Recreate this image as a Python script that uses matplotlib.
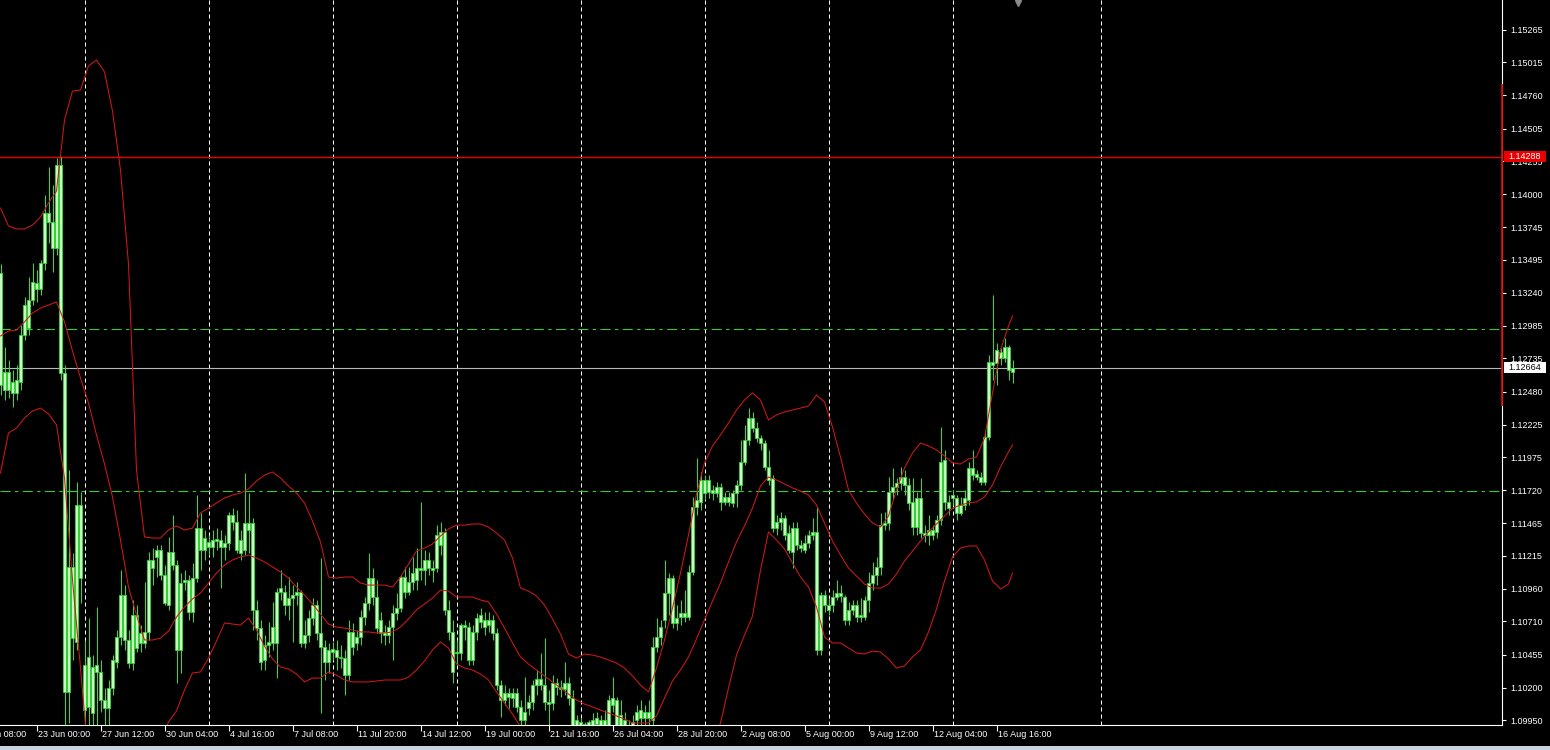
import numpy as np
import matplotlib.pyplot as plt
from matplotlib import transforms
from matplotlib.patches import Rectangle

# velas H4 (EURUSD)
opens = [1.13393, 1.12492, 1.12631, 1.12469, 1.12469, 1.12554, 1.12915, 1.12969, 1.13185, 1.13316,
         1.13270, 1.13470, 1.13855, 1.13786, 1.13585, 1.14224, 1.12623, 1.10167, 1.11129, 1.10552,
         1.11606, 1.10374, 1.10051, 1.10359, 1.10321, 1.10321, 1.10105, 1.10043, 1.10197, 1.10398,
         1.10590, 1.10913, 1.10567, 1.10390, 1.10759, 1.10621, 1.10544, 1.10629, 1.11183, 1.11206,
         1.11260, 1.11067, 1.10836, 1.11245, 1.11144, 1.10490, 1.11014, 1.11029, 1.10783, 1.11044,
         1.11429, 1.11260, 1.11322, 1.11283, 1.11345, 1.11337, 1.11283, 1.11314, 1.11529, 1.11476,
         1.11237, 1.11260, 1.11468, 1.11468, 1.10798, 1.10659, 1.10413, 1.10528, 1.10544, 1.10544,
         1.10937, 1.10937, 1.10836, 1.10890, 1.10913, 1.10937, 1.10544, 1.10605, 1.10736, 1.10836,
         1.10621, 1.10513, 1.10398, 1.10475, 1.10490, 1.10436, 1.10428, 1.10297, 1.10629, 1.10544,
         1.10590, 1.10744, 1.10852, 1.11044, 1.10898, 1.10721, 1.10605, 1.10605, 1.10667, 1.10775,
         1.10813, 1.11052, 1.10937, 1.11014, 1.11029, 1.11121, 1.11106, 1.11183, 1.11121, 1.11121,
         1.11298, 1.11399, 1.10798, 1.10629, 1.10467, 1.10467, 1.10682, 1.10667, 1.10413, 1.10629,
         1.10706, 1.10721, 1.10682, 1.10721, 1.10621, 1.10220, 1.10105, 1.10128, 1.10159, 1.10159,
         1.10051, 1.09951, 1.10043, 1.10090, 1.10220, 1.10267, 1.10220, 1.10090, 1.10082, 1.10236,
         1.10205, 1.10190, 1.10236, 1.10120, 1.09951, 1.09936, 1.09874, 1.09890, 1.09905, 1.09920,
         1.09951, 1.09912, 1.09912, 1.10066, 1.10105, 1.09912, 1.09951, 1.09890, 1.09897, 1.09951,
         1.09967, 1.10013, 1.09967, 1.09951, 1.10513, 1.10590, 1.10721, 1.10929, 1.11044, 1.10736,
         1.10744, 1.10744, 1.10744, 1.11091, 1.11591, 1.11630, 1.11799, 1.11707, 1.11722, 1.11699,
         1.11745, 1.11630, 1.11668, 1.11622, 1.11699, 1.11761, 1.11938, 1.12107, 1.12276, 1.12199,
         1.12122, 1.12084, 1.11899, 1.11815, 1.11429, 1.11476, 1.11506, 1.11391, 1.11245, 1.11429,
         1.11298, 1.11260, 1.11314, 1.11375, 1.11399, 1.10490, 1.10913, 1.10836, 1.10836, 1.10898,
         1.10929, 1.10898, 1.10721, 1.10798, 1.10836, 1.10744, 1.10744, 1.10875, 1.11006, 1.11067,
         1.11129, 1.11452, 1.11468, 1.11707, 1.11745, 1.11776, 1.11822, 1.11761, 1.11630, 1.11437,
         1.11660, 1.11391, 1.11375, 1.11414, 1.11399, 1.11491, 1.11953, 1.11630, 1.11660, 1.11660,
         1.11545, 1.11606, 1.11645, 1.11892, 1.11845, 1.11822, 1.11784, 1.12130, 1.12708, 1.12700,
         1.12785, 1.12738, 1.12823, 1.12631]
highs = [1.13462, 1.12823, 1.12723, 1.12646, 1.12684, 1.12992, 1.13208, 1.13362, 1.13470, 1.13416,
         1.13493, 1.13993, 1.14209, 1.14070, 1.14278, 1.14288, 1.12684, 1.11876, 1.11237, 1.11784,
         1.11707, 1.10567, 1.10736, 1.10451, 1.10821, 1.10413, 1.10197, 1.10259, 1.10451, 1.10644,
         1.11106, 1.10990, 1.10644, 1.10875, 1.10836, 1.10682, 1.11014, 1.11245, 1.11275, 1.11298,
         1.11298, 1.11144, 1.11360, 1.11529, 1.11183, 1.11083, 1.11106, 1.11067, 1.11160, 1.11683,
         1.11545, 1.11414, 1.11375, 1.11414, 1.11429, 1.11414, 1.11375, 1.11553, 1.11583, 1.11568,
         1.11414, 1.11853, 1.11699, 1.11506, 1.10875, 1.10721, 1.10605, 1.10706, 1.10860, 1.10967,
         1.11106, 1.10990, 1.11052, 1.10990, 1.11014, 1.10952, 1.10721, 1.10798, 1.10890, 1.10875,
         1.11198, 1.10567, 1.10544, 1.10552, 1.10567, 1.10528, 1.10490, 1.10721, 1.10698, 1.10644,
         1.10798, 1.10898, 1.11237, 1.11121, 1.11029, 1.10783, 1.10682, 1.10721, 1.10836, 1.10929,
         1.11067, 1.11129, 1.11129, 1.11206, 1.11275, 1.11630, 1.11260, 1.11245, 1.11183, 1.11452,
         1.11476, 1.11429, 1.10875, 1.10721, 1.10567, 1.10698, 1.10721, 1.10706, 1.10682, 1.10775,
         1.10813, 1.10783, 1.10783, 1.10759, 1.10659, 1.10259, 1.10220, 1.10197, 1.10197, 1.10197,
         1.10105, 1.10282, 1.10143, 1.10259, 1.10336, 1.10467, 1.10582, 1.10182, 1.10297, 1.10274,
         1.10259, 1.10398, 1.10282, 1.10182, 1.09989, 1.09967, 1.09936, 1.09951, 1.10005, 1.10013,
         1.09989, 1.10028, 1.10143, 1.10282, 1.10128, 1.10105, 1.10013, 1.09951, 1.09989, 1.10066,
         1.10105, 1.10066, 1.10105, 1.10590, 1.10736, 1.10721, 1.11183, 1.11083, 1.11067, 1.10836,
         1.10875, 1.10952, 1.11144, 1.11668, 1.11968, 1.11861, 1.11837, 1.11837, 1.11761, 1.11784,
         1.11776, 1.11707, 1.11707, 1.11722, 1.11799, 1.12107, 1.12223, 1.12353, 1.12323, 1.12246,
         1.12146, 1.12107, 1.12030, 1.11837, 1.11529, 1.11553, 1.11529, 1.11452, 1.11476, 1.11476,
         1.11337, 1.11375, 1.11414, 1.11506, 1.11591, 1.10937, 1.10952, 1.10890, 1.10952, 1.11029,
         1.10990, 1.10913, 1.10860, 1.10875, 1.10875, 1.10890, 1.10906, 1.11091, 1.11168, 1.11206,
         1.11545, 1.11553, 1.11822, 1.11892, 1.11815, 1.11899, 1.11876, 1.11815, 1.11815, 1.11707,
         1.11815, 1.11452, 1.11529, 1.11452, 1.11529, 1.12207, 1.12030, 1.11683, 1.11722, 1.11683,
         1.11668, 1.11722, 1.11938, 1.12030, 1.11876, 1.11861, 1.12184, 1.12761, 1.13223, 1.12854,
         1.12816, 1.12892, 1.12839, 1.12723]
lows = [1.12453, 1.12415, 1.12430, 1.12361, 1.12415, 1.12492, 1.12877, 1.12915, 1.13146, 1.13170,
        1.13223, 1.13416, 1.13624, 1.13401, 1.13531, 1.12569, 1.09500, 1.09928, 1.10413, 1.10490,
        1.10852, 1.09912, 1.09912, 1.09912, 1.09912, 1.10013, 1.09912, 1.09912, 1.10143, 1.10351,
        1.10528, 1.10490, 1.10351, 1.10336, 1.10475, 1.10475, 1.10505, 1.10567, 1.10990, 1.11052,
        1.11029, 1.10836, 1.10798, 1.11106, 1.10236, 1.10313, 1.10952, 1.10721, 1.10706, 1.11014,
        1.11106, 1.11183, 1.11221, 1.11206, 1.11260, 1.10967, 1.11183, 1.11260, 1.11414, 1.11237,
        1.11183, 1.11221, 1.11237, 1.10644, 1.10567, 1.10336, 1.10336, 1.10436, 1.10490, 1.10274,
        1.10875, 1.10759, 1.10721, 1.10552, 1.10836, 1.10513, 1.10505, 1.10552, 1.10682, 1.10567,
        1.10005, 1.10259, 1.10313, 1.10413, 1.10336, 1.10351, 1.10143, 1.10259, 1.10451, 1.10490,
        1.10528, 1.10682, 1.10798, 1.10836, 1.10621, 1.10544, 1.10528, 1.10544, 1.10413, 1.10721,
        1.10783, 1.10890, 1.10913, 1.10952, 1.10952, 1.11029, 1.10990, 1.11067, 1.11014, 1.11091,
        1.11221, 1.10759, 1.10567, 1.10236, 1.10374, 1.10413, 1.10567, 1.10374, 1.10374, 1.10567,
        1.10659, 1.10605, 1.10629, 1.10567, 1.10182, 1.09974, 1.10066, 1.10043, 1.10051, 1.10013,
        1.09912, 1.09912, 1.09989, 1.10028, 1.10143, 1.10182, 1.10028, 1.09897, 1.10028, 1.10143,
        1.10128, 1.10143, 1.10066, 1.09874, 1.09836, 1.09820, 1.09797, 1.09836, 1.09859, 1.09874,
        1.09859, 1.09874, 1.09874, 1.10013, 1.09874, 1.09874, 1.09836, 1.09813, 1.09859, 1.09912,
        1.09912, 1.09912, 1.09912, 1.09912, 1.10475, 1.10528, 1.10659, 1.10759, 1.10659, 1.10644,
        1.10682, 1.10706, 1.10721, 1.11067, 1.11529, 1.11568, 1.11645, 1.11660, 1.11645, 1.11668,
        1.11568, 1.11606, 1.11599, 1.11591, 1.11591, 1.11722, 1.11915, 1.12069, 1.12169, 1.12092,
        1.12030, 1.11876, 1.11761, 1.11399, 1.11375, 1.11414, 1.11337, 1.11237, 1.11121, 1.11260,
        1.11245, 1.11237, 1.11275, 1.11337, 1.10451, 1.10451, 1.10783, 1.10759, 1.10783, 1.10875,
        1.10860, 1.10682, 1.10682, 1.10759, 1.10706, 1.10706, 1.10721, 1.10783, 1.10952, 1.10990,
        1.11067, 1.11414, 1.11414, 1.11645, 1.11683, 1.11722, 1.11683, 1.11568, 1.11375, 1.11375,
        1.11352, 1.11322, 1.11298, 1.11337, 1.11352, 1.11452, 1.11568, 1.11529, 1.11606, 1.11491,
        1.11529, 1.11568, 1.11606, 1.11799, 1.11799, 1.11761, 1.11761, 1.12107, 1.12569, 1.12530,
        1.12684, 1.12708, 1.12569, 1.12546]
closes = [1.12530, 1.12631, 1.12492, 1.12554, 1.12569, 1.12915, 1.13146, 1.13185, 1.13324, 1.13270,
          1.13470, 1.13855, 1.13786, 1.13585, 1.14224, 1.12623, 1.10167, 1.11129, 1.10582, 1.11606,
          1.11044, 1.10028, 1.10436, 1.10005, 1.10374, 1.10105, 1.10043, 1.10197, 1.10413, 1.10590,
          1.10913, 1.10567, 1.10390, 1.10759, 1.10505, 1.10544, 1.10629, 1.11183, 1.11121, 1.11260,
          1.11067, 1.10852, 1.11245, 1.11144, 1.10490, 1.11006, 1.11029, 1.10783, 1.11044, 1.11429,
          1.11260, 1.11352, 1.11283, 1.11337, 1.11329, 1.11283, 1.11314, 1.11529, 1.11476, 1.11260,
          1.11337, 1.11468, 1.11414, 1.10798, 1.10659, 1.10398, 1.10528, 1.10552, 1.10667, 1.10937,
          1.10967, 1.10836, 1.10890, 1.10913, 1.10937, 1.10544, 1.10605, 1.10736, 1.10836, 1.10621,
          1.10513, 1.10398, 1.10490, 1.10498, 1.10436, 1.10428, 1.10297, 1.10629, 1.10513, 1.10590,
          1.10744, 1.10852, 1.11044, 1.10898, 1.10659, 1.10621, 1.10629, 1.10667, 1.10775, 1.10813,
          1.11052, 1.10937, 1.11014, 1.11083, 1.11121, 1.11106, 1.11183, 1.11121, 1.11106, 1.11375,
          1.11399, 1.10798, 1.10629, 1.10321, 1.10475, 1.10682, 1.10667, 1.10413, 1.10629, 1.10736,
          1.10759, 1.10667, 1.10721, 1.10621, 1.10220, 1.10105, 1.10159, 1.10159, 1.10120, 1.10051,
          1.09951, 1.10013, 1.10090, 1.10220, 1.10267, 1.10220, 1.10090, 1.10074, 1.10236, 1.10205,
          1.10190, 1.10236, 1.10120, 1.09912, 1.09890, 1.09874, 1.09920, 1.09936, 1.09951, 1.09967,
          1.09897, 1.09951, 1.10105, 1.10120, 1.09912, 1.09989, 1.09890, 1.09859, 1.09936, 1.10013,
          1.10028, 1.09967, 1.10013, 1.10513, 1.10590, 1.10667, 1.10929, 1.11044, 1.10698, 1.10698,
          1.10775, 1.10775, 1.11091, 1.11591, 1.11645, 1.11799, 1.11699, 1.11799, 1.11699, 1.11745,
          1.11630, 1.11668, 1.11630, 1.11699, 1.11761, 1.11938, 1.12107, 1.12276, 1.12199, 1.12122,
          1.12084, 1.11899, 1.11799, 1.11429, 1.11476, 1.11506, 1.11375, 1.11260, 1.11429, 1.11298,
          1.11275, 1.11314, 1.11375, 1.11399, 1.10490, 1.10913, 1.10836, 1.10798, 1.10898, 1.10929,
          1.10906, 1.10721, 1.10798, 1.10836, 1.10744, 1.10759, 1.10875, 1.11006, 1.11067, 1.11129,
          1.11452, 1.11468, 1.11707, 1.11745, 1.11776, 1.11822, 1.11761, 1.11622, 1.11437, 1.11660,
          1.11391, 1.11375, 1.11414, 1.11375, 1.11491, 1.11938, 1.11630, 1.11583, 1.11683, 1.11545,
          1.11606, 1.11660, 1.11892, 1.11837, 1.11822, 1.11784, 1.12130, 1.12708, 1.12684, 1.12800,
          1.12738, 1.12823, 1.12646, 1.12664]

# Bandas de Bollinger lidas a cada 2 barras
band_bars = list(range(0, 253, 2)) + [253]
bb_upper = [1.13893, 1.13755, 1.13732, 1.13732, 1.13762, 1.13824, 1.13932, 1.14024, 1.14571, 1.14794,
            1.14802, 1.14987, 1.15033, 1.14941, 1.14640, 1.14186, 1.13462, 1.11876, 1.11360, 1.11352,
            1.11352, 1.11414, 1.11445, 1.11414, 1.11429, 1.11545, 1.11583, 1.11622, 1.11660, 1.11683,
            1.11699, 1.11730, 1.11791, 1.11837, 1.11861, 1.11815, 1.11753, 1.11699, 1.11622, 1.11483,
            1.11322, 1.11052, 1.11044, 1.11052, 1.11052, 1.11006, 1.10990, 1.10990, 1.10990, 1.10975,
            1.11052, 1.11152, 1.11252, 1.11275, 1.11306, 1.11368, 1.11422, 1.11452, 1.11452, 1.11460,
            1.11460, 1.11437, 1.11391, 1.11337, 1.11198, 1.10967, 1.10944, 1.10906, 1.10836, 1.10729,
            1.10613, 1.10459, 1.10428, 1.10459, 1.10451, 1.10436, 1.10413, 1.10390, 1.10351, 1.10290,
            1.10220, 1.10167, 1.10351, 1.10567, 1.10813, 1.11083, 1.11375, 1.11691, 1.11930, 1.12061,
            1.12146, 1.12238, 1.12338, 1.12415, 1.12469, 1.12415, 1.12261, 1.12300, 1.12323, 1.12338,
            1.12353, 1.12369, 1.12453, 1.12400, 1.12207, 1.11976, 1.11722, 1.11622, 1.11537, 1.11468,
            1.11437, 1.11522, 1.11722, 1.11892, 1.12007, 1.12084, 1.12061, 1.12030, 1.11984, 1.11930,
            1.11922, 1.11961, 1.11976, 1.12122, 1.12469, 1.12800, 1.12985, 1.13062]
bb_middle = [1.12908, 1.12946, 1.12954, 1.13016, 1.13085, 1.13123, 1.13146, 1.13170, 1.13016, 1.12792,
             1.12584, 1.12392, 1.12146, 1.11922, 1.11668, 1.11337, 1.10975, 1.10759, 1.10567, 1.10567,
             1.10582, 1.10636, 1.10744, 1.10821, 1.10883, 1.10929, 1.11006, 1.11083, 1.11144, 1.11183,
             1.11206, 1.11221, 1.11198, 1.11168, 1.11129, 1.11091, 1.11044, 1.10975, 1.10913, 1.10844,
             1.10767, 1.10690, 1.10667, 1.10659, 1.10644, 1.10629, 1.10629, 1.10621, 1.10621, 1.10629,
             1.10667, 1.10729, 1.10798, 1.10844, 1.10890, 1.10952, 1.10944, 1.10898, 1.10898, 1.10898,
             1.10875, 1.10860, 1.10767, 1.10659, 1.10544, 1.10436, 1.10382, 1.10336, 1.10290, 1.10244,
             1.10197, 1.10151, 1.10105, 1.10074, 1.10051, 1.10028, 1.10005, 1.09982, 1.09959, 1.09928,
             1.09928, 1.09928, 1.09982, 1.10120, 1.10251, 1.10336, 1.10436, 1.10575, 1.10721, 1.10867,
             1.11006, 1.11168, 1.11322, 1.11445, 1.11583, 1.11753, 1.11822, 1.11799, 1.11768, 1.11738,
             1.11714, 1.11683, 1.11606, 1.11468, 1.11329, 1.11221, 1.11121, 1.11060, 1.10998, 1.10967,
             1.10967, 1.10998, 1.11075, 1.11175, 1.11252, 1.11329, 1.11399, 1.11460, 1.11522, 1.11583,
             1.11606, 1.11622, 1.11630, 1.11668, 1.11761, 1.11899, 1.12015, 1.12069]
bb_lower = [1.11853, 1.12161, 1.12199, 1.12276, 1.12330, 1.12353, 1.12307, 1.12223, 1.11815, 1.11029,
            1.10351, 1.09643, 1.09181, 1.08950, 1.08719, 1.08642, 1.08796, 1.09335, 1.09643, 1.09720,
            1.09797, 1.09936, 1.10020, 1.10182, 1.10313, 1.10321, 1.10428, 1.10559, 1.10698, 1.10690,
            1.10682, 1.10736, 1.10644, 1.10520, 1.10421, 1.10359, 1.10344, 1.10305, 1.10244, 1.10274,
            1.10274, 1.10321, 1.10297, 1.10259, 1.10244, 1.10244, 1.10244, 1.10251, 1.10259, 1.10259,
            1.10259, 1.10282, 1.10336, 1.10405, 1.10490, 1.10552, 1.10505, 1.10382, 1.10351, 1.10336,
            1.10305, 1.10259, 1.10167, 1.10082, 1.09997, 1.09897, 1.09797, 1.09736, 1.09705, 1.09674,
            1.09659, 1.09643, 1.09628, 1.09628, 1.09628, 1.09628, 1.09643, 1.09643, 1.09628, 1.09597,
            1.09643, 1.09682, 1.09628, 1.09566, 1.09528, 1.09489, 1.09450, 1.09489, 1.09566, 1.09759,
            1.09928, 1.10197, 1.10451, 1.10605, 1.10752, 1.11106, 1.11399, 1.11337, 1.11268, 1.11160,
            1.11052, 1.10975, 1.10821, 1.10590, 1.10544, 1.10544, 1.10505, 1.10467, 1.10459, 1.10482,
            1.10475, 1.10421, 1.10351, 1.10367, 1.10436, 1.10490, 1.10629, 1.10806, 1.11021, 1.11206,
            1.11275, 1.11291, 1.11291, 1.11183, 1.11021, 1.10960, 1.10998, 1.11083]

price_ticks = [1.15265, 1.15015, 1.14760, 1.14505, 1.14255, 1.14000, 1.13745, 1.13495, 1.13240,
               1.12985, 1.12735, 1.12480, 1.12225, 1.11975, 1.11720, 1.11465, 1.11215, 1.10960,
               1.10710, 1.10455, 1.10200, 1.09950]
date_labels = ['20 Jun 08:00', '23 Jun 00:00', '27 Jun 12:00', '30 Jun 04:00', '4 Jul 16:00',
               '7 Jul 08:00', '11 Jul 20:00', '14 Jul 12:00', '19 Jul 00:00', '21 Jul 16:00',
               '26 Jul 04:00', '28 Jul 20:00', '2 Aug 08:00', '5 Aug 00:00', '9 Aug 12:00',
               '12 Aug 04:00', '16 Aug 16:00']
date_bars = [-7, 9, 25, 41, 57, 73, 89, 105, 121, 137, 153, 169, 185, 201, 217, 233, 249]
grid_bars = [21, 52, 83, 114, 145, 176, 207, 238, 275]

resistance = 1.14288
last_price = 1.12664
green_levels = [1.12962, 1.11714]
range_line = (1.12380, 1.14840)

green = '#2ee02e'
body_fill = '#c8f8c2'
band_red = '#d01818'
font = 'Liberation Sans'

fig = plt.figure(figsize=(15.5, 7.5), dpi=100, facecolor='black')
ax = fig.add_axes([0, 25 / 750, 1502 / 1550, 725 / 750], facecolor='black')

x = np.arange(len(closes))
o = np.array(opens)
c = np.array(closes)

# grade vertical
for b in grid_bars:
    ax.axvline(b, color='white', lw=0.72, linestyle=(0, (4, 3)), zorder=1)

# níveis horizontais
for lvl in green_levels:
    ax.axhline(lvl, color='#32cd32', lw=0.8, linestyle=(0, (9, 4, 3, 4)), zorder=1)
ax.axhline(resistance, color='#e80000', lw=1.0, zorder=2)
ax.axhline(last_price, color='#b8b8b8', lw=0.8, zorder=2)

# velas
ax.vlines(x, lows, highs, color=green, lw=0.75, zorder=3)
ax.bar(x, np.abs(c - o), bottom=np.minimum(o, c), width=0.55, color=body_fill,
       edgecolor=green, linewidth=0.6, zorder=4)

# bandas
ax.plot(band_bars, bb_upper, color=band_red, lw=0.75, zorder=5)
ax.plot(band_bars, bb_middle, color=band_red, lw=0.75, zorder=5)
ax.plot(band_bars, bb_lower, color=band_red, lw=0.75, zorder=5)

ax.set_xlim(-0.125, 375.375)
ax.set_ylim(1.099125, 1.15495)

# eixo de preços à direita
ax.yaxis.tick_right()
ax.set_yticks(price_ticks)
ax.set_yticklabels([f'{v:.5f}' for v in price_ticks], fontfamily=font)
ax.tick_params(axis='y', colors='white', length=3, width=0.8, labelsize=6.5, pad=3)

# eixo de tempo
ax.set_xticks([b for b in date_bars if b >= 0])
ax.set_xticklabels([])
ax.tick_params(axis='x', colors='white', length=4, width=0.8)
xtrans = transforms.blended_transform_factory(ax.transData, ax.transAxes)
for b, lab in zip(date_bars, date_labels):
    ax.text(b + 0.3, -0.0125, lab, transform=xtrans, ha='left', va='center',
            color='white', fontsize=6.5, fontfamily=font, clip_on=False)

for s in ['left', 'top']:
    ax.spines[s].set_visible(False)
ax.spines['right'].set_color('white')
ax.spines['bottom'].set_color('white')
ax.spines['right'].set_linewidth(0.8)
ax.spines['bottom'].set_linewidth(0.8)

ytrans = transforms.blended_transform_factory(ax.transAxes, ax.transData)
ax.plot([1.0, 1.0], range_line, transform=ytrans, color='#e00000', lw=1.3,
        clip_on=False, zorder=6)

# caixas de preço no eixo
px_w = 1 / 1502
px_p = 0.000077
for lvl, fc, tc in [(resistance, '#e80000', 'white'), (last_price, 'white', 'black')]:
    ax.add_patch(Rectangle((1 + 1.5 * px_w, lvl - 5.5 * px_p), 42 * px_w, 11 * px_p,
                           transform=ytrans, facecolor=fc, edgecolor='none',
                           clip_on=False, zorder=7))
    ax.text(1 + 6 * px_w, lvl, f'{lvl:.5f}', transform=ytrans, ha='left', va='center',
            color=tc, fontsize=6.5, fontfamily=font, clip_on=False, zorder=8)

# marcador de deslocamento do gráfico
ax.plot(254.4, 1.1547, marker='v', color='#8a8a8a', markersize=5, clip_on=False, zorder=6)

fig.patches.append(Rectangle((0, 0), 1, 4 / 750, transform=fig.transFigure,
                             facecolor='#c5d3e3', edgecolor='none'))

fig.savefig('out.png', dpi=100, facecolor='black')
